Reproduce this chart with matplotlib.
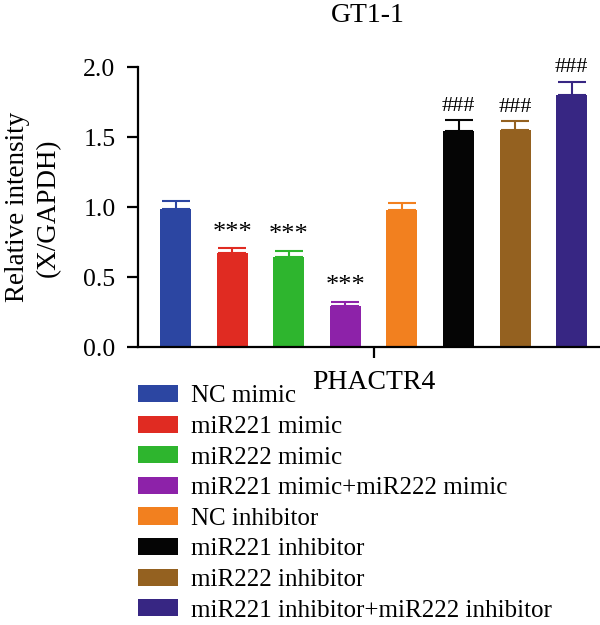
import matplotlib.pyplot as plt
import numpy as np

plt.rcParams['font.family'] = ['Liberation Serif', 'DejaVu Serif']

# Groups, mean values and upper error
groups = ["NC mimic", "miR221 mimic", "miR222 mimic", "miR221 mimic+miR222 mimic",
          "NC inhibitor", "miR221 inhibitor", "miR222 inhibitor",
          "miR221 inhibitor+miR222 inhibitor"]
means = [0.986, 0.671, 0.648, 0.295, 0.981, 1.547, 1.555, 1.802]
errors = [0.057, 0.036, 0.042, 0.031, 0.05, 0.074, 0.061, 0.095]
marks = ["", "***", "***", "***", "", "###", "###", "###"]
colors = ["#2c46a2", "#e02b22", "#2eb52e", "#8d22a9", "#f2801f",
          "#050505", "#946120", "#372683"]

fig = plt.figure(figsize=(6, 6.25), dpi=100)
ax = fig.add_axes([0.2295, 0.4443, 0.7705, 0.448])

x = np.arange(len(groups))
for i in range(len(groups)):
    ax.bar(x[i], means[i], width=0.548, color=colors[i], label=groups[i], zorder=2)
    ax.errorbar(x[i], means[i], yerr=[[0], [errors[i]]], fmt='none', ecolor=colors[i],
                elinewidth=1.5, capsize=10, capthick=1.5, zorder=1)
    if marks[i] == "***":
        ax.text(x[i], means[i] + errors[i] + 0.11, marks[i], ha='center', va='center',
                fontsize=19)
    elif marks[i] == "###":
        ax.text(x[i], means[i] + errors[i] + 0.10, marks[i], ha='center', va='center',
                fontsize=16)

ax.set_xlim(-0.668, 7.5)
ax.set_ylim(0, 2.0)
ax.set_yticks([0.0, 0.5, 1.0, 1.5, 2.0])
ax.set_yticklabels(["0.0", "0.5", "1.0", "1.5", "2.0"], fontsize=18.5)
ax.set_xticks([3.5])
ax.set_xticklabels(["PHACTR4"], fontsize=20)

ax.spines['top'].set_visible(False)
ax.spines['right'].set_visible(False)
ax.spines['left'].set_linewidth(1.6)
ax.spines['bottom'].set_linewidth(1.6)
ax.tick_params(axis='both', width=1.6, length=8, pad=8)

ax.set_ylabel("Relative intensity\n(X/GAPDH)", fontsize=19.5, linespacing=1.3, labelpad=16)
fig.text(0.613, 0.976, "GT1-1", ha='center', va='center', fontsize=20)

fig.legend(loc='upper left', bbox_to_anchor=(0.2295, 0.384), frameon=False,
           fontsize=18, handlelength=1.6, handleheight=0.68, labelspacing=0.33,
           handletextpad=0.55, borderaxespad=0, borderpad=0)

plt.savefig("out.png", dpi=100)
